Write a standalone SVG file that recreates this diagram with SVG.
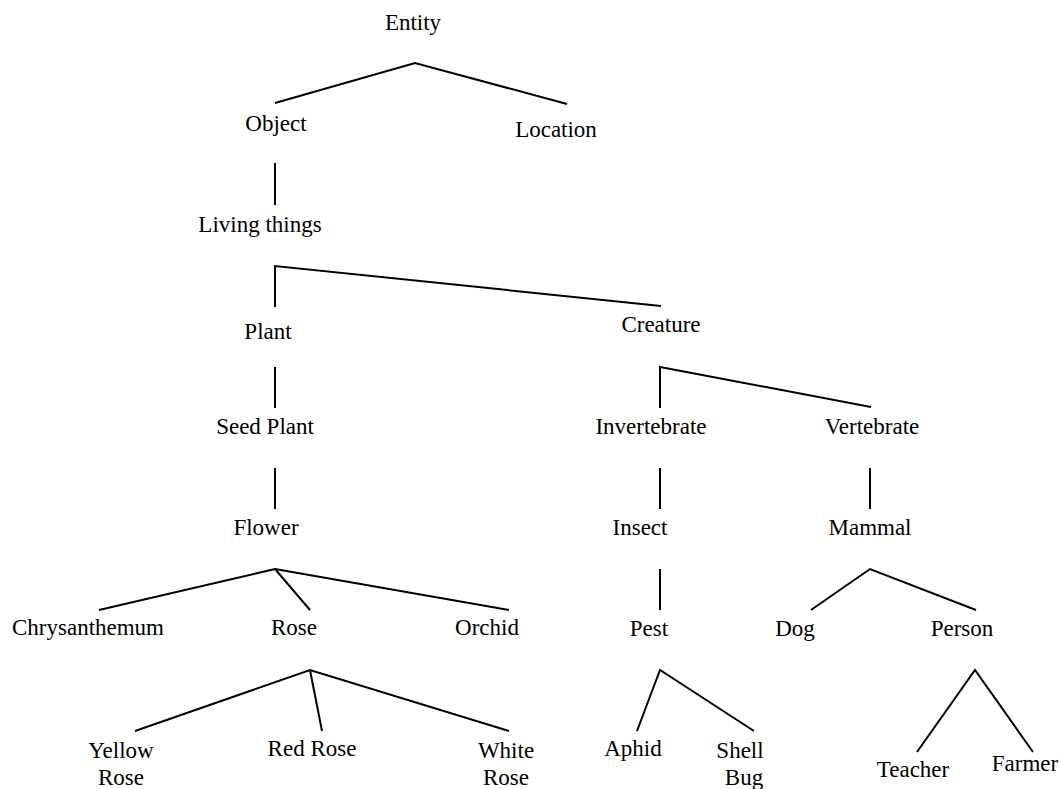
<svg xmlns="http://www.w3.org/2000/svg" width="1060" height="789" viewBox="0 0 1060 789">
  <style>
    .lbl { font-family: "Liberation Serif", "Times New Roman", serif; font-size: 23px; fill: #000; text-anchor: middle; }
    .edge { fill: none; stroke: #000; stroke-width: 2; stroke-linejoin: miter; }
  </style>
  <rect x="0" y="0" width="1060" height="789" fill="#fff"/>

  <!-- connectors -->
  <g id="connectors" class="edge">
    <polyline points="275,103 415,63 567,104"/>
    <line x1="275" y1="163" x2="275" y2="205"/>
    <polyline points="275,307 275,266 661,306"/>
    <line x1="275" y1="367" x2="275" y2="408"/>
    <line x1="275" y1="468" x2="275" y2="509"/>
    <polyline points="660,408 660,367 871,407"/>
    <line x1="660" y1="468" x2="660" y2="509"/>
    <line x1="870" y1="468" x2="870" y2="509"/>
    <polyline points="99,610 275,569 509,610"/>
    <line x1="275" y1="569" x2="310" y2="610"/>
    <line x1="660" y1="569" x2="660" y2="610"/>
    <polyline points="811,610 870,569 976,610"/>
    <polyline points="135,731 310,670 509,731"/>
    <line x1="310" y1="670" x2="322" y2="731"/>
    <polyline points="637,731 660,670 754,731"/>
    <polyline points="917,752 975,670 1033,752"/>
  </g>

  <!-- nodes -->
  <g id="entity"><text class="lbl" x="413" y="30">Entity</text></g>
  <g id="object"><text class="lbl" x="276" y="131">Object</text></g>
  <g id="location"><text class="lbl" x="556" y="137">Location</text></g>
  <g id="living-things"><text class="lbl" x="260" y="232">Living things</text></g>
  <g id="plant"><text class="lbl" x="268" y="339">Plant</text></g>
  <g id="creature"><text class="lbl" x="661" y="332">Creature</text></g>
  <g id="seed-plant"><text class="lbl" x="265" y="434">Seed Plant</text></g>
  <g id="invertebrate"><text class="lbl" x="651" y="434">Invertebrate</text></g>
  <g id="vertebrate"><text class="lbl" x="872" y="434">Vertebrate</text></g>
  <g id="flower"><text class="lbl" x="266" y="535">Flower</text></g>
  <g id="insect"><text class="lbl" x="640" y="535">Insect</text></g>
  <g id="mammal"><text class="lbl" x="870" y="535">Mammal</text></g>
  <g id="chrysanthemum"><text class="lbl" x="88" y="635">Chrysanthemum</text></g>
  <g id="rose"><text class="lbl" x="294" y="635">Rose</text></g>
  <g id="orchid"><text class="lbl" x="487" y="635">Orchid</text></g>
  <g id="pest"><text class="lbl" x="649" y="636">Pest</text></g>
  <g id="dog"><text class="lbl" x="795" y="636">Dog</text></g>
  <g id="person"><text class="lbl" x="962" y="636">Person</text></g>
  <g id="yellow-rose"><text class="lbl" y="758"><tspan x="121">Yellow</tspan><tspan x="121" dy="27">Rose</tspan></text></g>
  <g id="red-rose"><text class="lbl" x="312" y="756">Red Rose</text></g>
  <g id="white-rose"><text class="lbl" y="758"><tspan x="506">White</tspan><tspan x="506" dy="27">Rose</tspan></text></g>
  <g id="aphid"><text class="lbl" x="633" y="756">Aphid</text></g>
  <g id="shell-bug"><text class="lbl" y="758"><tspan x="740">Shell</tspan><tspan x="744" dy="27">Bug</tspan></text></g>
  <g id="teacher"><text class="lbl" x="913" y="777">Teacher</text></g>
  <g id="farmer"><text class="lbl" x="1025" y="771">Farmer</text></g>
</svg>
